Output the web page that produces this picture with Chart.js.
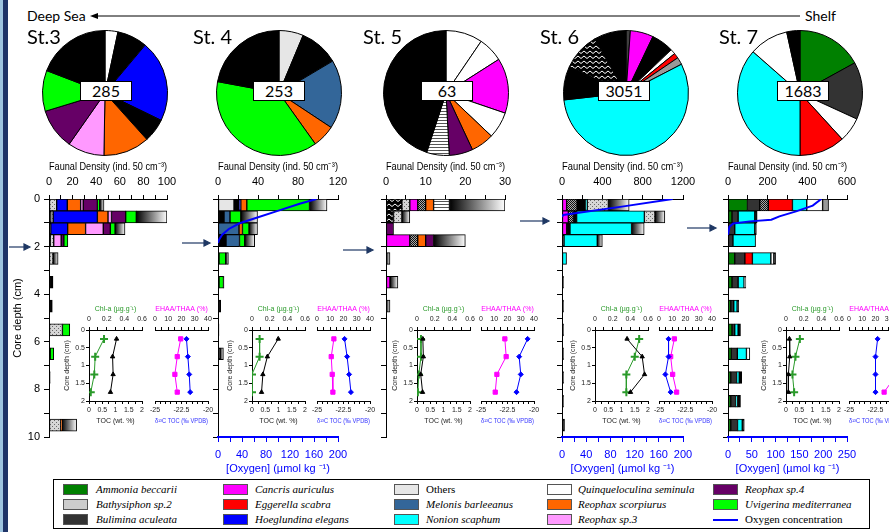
<!DOCTYPE html>
<html>
<head>
<meta charset="utf-8">
<title>Faunal density</title>
<script src="https://cdn.jsdelivr.net/npm/chart.js@4.4.1/dist/chart.umd.min.js"></script>
<style>
  body { margin: 0; width: 889px; height: 532px; overflow: hidden; position: relative; background: #fff; font-family: "Liberation Sans", Arial, sans-serif; }
  canvas, .abs { position: absolute; }
  .st { position: absolute; font: 20px Lato, "Open Sans", sans-serif; line-height: 24px; white-space: nowrap; }
  .num { position: absolute; background: #fff; border: 1px solid #000; box-sizing: border-box; text-align: center; font: 16px Lato, sans-serif; line-height: 18px; }
  .lab { position: absolute; font: 14px Lato, sans-serif; line-height: 16px; }
  #legend { position: absolute; left: 53px; top: 479px; width: 817px; height: 50px; border: 1px solid #000; box-sizing: border-box; }
  .sw { position: absolute; width: 25px; height: 11px; border: 1px solid #555; box-sizing: border-box; }
  .ln { position: absolute; font: italic 11px "Liberation Serif", serif; line-height: 13px; white-space: nowrap; }
</style>
</head>
<body>
<div class="abs" style="left:0;top:0;width:3px;height:532px;background:#9fc5e0"></div>
<div class="abs" style="left:3px;top:0;width:5px;height:532px;background:#1f3468"></div>
<svg class="abs" style="left:0;top:0" width="889" height="532">
  <line x1="96" y1="16" x2="800" y2="16" stroke="#000" stroke-width="1"/>
  <polygon points="90,16 98,13 98,19" fill="#000"/>
  <g stroke="#1f3864" stroke-width="1.2" fill="#1f3864">
    <line x1="9" y1="247" x2="26" y2="247"/><polygon points="30,247 24,244 24,250"/>
    <line x1="182" y1="243" x2="206" y2="243"/><polygon points="210,243 204,240 204,246"/>
    <line x1="343" y1="250" x2="369" y2="250"/><polygon points="373,250 367,247 367,253"/>
    <line x1="520" y1="221" x2="545" y2="221"/><polygon points="549,221 543,218 543,224"/>
    <line x1="687" y1="228" x2="712" y2="228"/><polygon points="716,228 710,225 710,231"/>
  </g>
</svg>
<div class="lab" style="left:27px;top:8px">Deep Sea</div>
<div class="lab" style="left:805px;top:8px">Shelf</div>
<div id="legend"></div>

<script>
// stations and total densities
const stations = ['St.3', 'St. 4', 'St. 5', 'St. 6', 'St. 7'];
const totals = [285, 253, 63, 3051, 1683];

// pie wedges, degrees clockwise from the top
const pieFills = [
  ['quinq', 'black', 'hoeg', 'black', 'scorp', 'sp3', 'sp4', 'uvig', 'black'],
  ['others', 'black', 'melon', 'scorp', 'uvig', 'black'],
  ['quinq', 'quinq', 'cancris', 'quinq', 'scorp', 'sp4', 'hl', 'black'],
  ['dgray', 'cancris', 'black', 'quinq', 'egger', 'gray', 'nonion', 'black', 'zig', 'black'],
  ['amm', 'bulim', 'quinq', 'egger', 'nonion', 'quinq', 'black']
];
const pieValues = [
  [12, 28, 76, 22, 43, 34, 38, 38, 69],
  [22.7, 36.6, 64.2, 21, 136, 79.5],
  [34.2, 23.3, 51.3, 24.7, 21.5, 22, 21, 162],
  [4, 21.5, 20.8, 4.7, 4.8, 6.8, 201, 31.4, 35, 30],
  [61.2, 53.4, 23, 42.4, 131.3, 36.4, 12.3]
];

// core depth (cm) of each bar
const depths = [0.25, 0.75, 1.25, 1.75, 2.5, 3.5, 4.5, 5.5, 6.5, 7.5, 8.5, 9.5];

// faunal density per taxon (rows) and depth (columns)
const st3Keys = ['black', 'dots', 'hoeg', 'scorp', 'sp3', 'sp4', 'uvig', 'grad'];
const st3Values = [
  [0, 1.5, 1.5, 1, 0, 3.4, 2.8, 0, 1, 1, 0.4, 0],
  [6.5, 2, 0, 3, 3.4, 0, 0, 11.4, 0, 0, 0, 10],
  [9, 37.5, 14.3, 0, 0, 0, 0, 0, 0, 0, 0, 0],
  [11.3, 9, 15.2, 0, 0, 0, 0, 0, 0, 0, 0, 0.9],
  [2.2, 3, 15, 6.3, 0, 0, 0, 0, 0, 0, 0, 0],
  [12, 12, 6, 2.3, 0, 0, 0, 0, 0, 0, 0, 0],
  [2, 9, 4, 3.4, 0, 0, 0, 6.2, 3, 0, 0, 0],
  [3.6, 26, 8.4, 0, 4.3, 0, 0, 0, 0, 0, 0, 12.5]
];
const st4Keys = ['others', 'black', 'hoeg', 'melon', 'scorp', 'uvig', 'grad'];
const st4Values = [
  [16, 0, 0, 0, 0, 0, 0, 0, 0, 0, 0, 0],
  [5, 6, 0, 8, 1, 1, 2.7, 1, 2, 0.5, 0.5, 0.5],
  [1.8, 0, 0, 0, 0, 0, 0, 0, 0, 0, 0, 0],
  [0, 6, 21, 13.5, 0, 0, 0, 0, 0, 0, 0, 0],
  [6, 0, 3.5, 0, 0, 0, 0, 0, 0, 0, 0, 0],
  [62.7, 10.8, 6.5, 5.2, 6.7, 4.5, 0, 0, 0, 0, 0, 0],
  [17.5, 16.7, 8.5, 10, 2.7, 0.5, 0, 0, 3.4, 0, 0, 0]
];
const st5Keys = ['zig', 'dots', 'cancris', 'ddots', 'scorp', 'sp4', 'hl', 'grad'];
const st5Values = [
  [4, 1.9, 0, 0, 0, 0, 0, 0, 0, 0, 0, 0],
  [2, 2.1, 0, 0, 0, 0, 0, 0, 0, 0, 0, 0],
  [2, 0, 0, 6, 0, 1, 0, 0, 0, 0, 0, 0],
  [2, 0, 0, 2, 0, 0, 0, 0, 0, 0, 0, 0],
  [2, 0, 0, 2, 0, 0, 0, 0, 0, 0, 0, 0],
  [0, 0, 1.9, 2, 0, 0, 0, 0, 0, 0, 0, 0],
  [4, 0, 0, 0, 0, 0, 0, 0, 0, 0, 0, 0],
  [14, 2, 0, 8, 1, 2, 1, 0, 0, 0, 0, 0]
];
const st6Keys = ['cancris', 'ddots', 'black', 'nonion', 'dots', 'grad'];
const st6Values = [
  [46, 63, 46, 0, 0, 0, 0, 0, 0, 0, 0, 0],
  [104, 50, 0, 0, 0, 0, 0, 0, 0, 0, 0, 0],
  [80, 32, 33, 20, 5, 15, 15, 15, 15, 15, 15, 25],
  [20, 672, 611, 330, 40, 0, 0, 0, 0, 0, 0, 0],
  [210, 105, 0, 0, 0, 0, 0, 0, 0, 0, 0, 0],
  [206, 98, 125, 50, 0, 0, 0, 0, 0, 0, 0, 0]
];
const st7Keys = ['amm', 'bulim', 'ddots', 'egger', 'nonion', 'quinq', 'gray', 'black'];
const st7Values = [
  [98, 20, 0, 0, 34, 20, 14, 20, 17, 14, 14, 14],
  [62, 31, 34, 25, 51, 31, 15, 14, 30, 29, 24, 34],
  [43, 0, 0, 0, 0, 0, 0, 0, 0, 0, 0, 0],
  [122, 0, 0, 0, 38, 0, 0, 0, 0, 0, 0, 0],
  [72, 84, 101, 114, 93, 30, 17, 17, 46, 14, 10, 24],
  [80, 0, 0, 0, 15, 9, 0, 0, 17, 0, 0, 0],
  [30, 0, 0, 0, 0, 0, 0, 0, 0, 0, 0, 0],
  [0, 12, 8, 0, 9, 0, 8, 12, 0, 12, 15, 10]
];
const barKeys = [st3Keys, st4Keys, st5Keys, st6Keys, st7Keys];
const barValues = [st3Values, st4Values, st5Values, st6Values, st7Values];

// axis ranges
const faunalMax = [100, 120, 30, 1200, 600];
const faunalStep = [10, 20, 5, 200, 100];
const faunalLabelStep = [20, 40, 10, 400, 200];
const o2Max = [0, 200, 0, 200, 250];
const o2Step = [0, 20, 0, 20, 25];
const o2LabelStep = [0, 40, 0, 40, 50];

// oxygen profiles (depth cm, umol/kg)
const o2Depth = [[], [0, 0.2, 0.52, 0.8, 1.03, 1.26, 1.5, 1.7, 1.85], [], [0, 0.32, 0.67, 0.75], [0, 0.28, 0.52, 0.73, 0.87, 0.94, 1.03, 1.17, 1.5]];
const o2Value = [[], [164, 136, 97, 63, 35, 18, 7, 2, 0], [], [183, 99, 2, 0], [196, 178, 143, 108, 91, 46, 11, 3, 0]];

// sediment insets
const insetDepth = [0.25, 0.75, 1.25, 1.75];
const chlA = [[0.17, 0.07, 0.06, 0.02], [0.086, 0.086, 0, 0], [0.045, 0.045, 0.02, 0.01], [0.5, 0.45, 0.355, 0.355], [0.157, 0.107, 0.073, 0.092]];
const toc = [[1.04, 0.89, 0.91, 0.81], [0.99, 0.58, 0.41, 0.36], [0.22, 0.24, 0.14, 0.21], [1.21, 1.78, 1.87, 1.34], [0.13, 0.14, 0.09, 0.09]];
const ehaa = [[19.4, 16.8, 15, 16.8], [12.75, 10.75, 11.5, 12], [18, 19, 12, 10.75], [11.6, 8.8, 10.3, 13.3], [null, null, 36, 26.5]];
const d13c = [[-22.03, -21.9, -21.77, -21.68], [-22.4, -22.16, -21.97, -21.8], [-20.6, -21.4, -21.25, -21.65], [-24.1, -24.1, -24.4, -23.9], [-22.3, -22.5, -22.5, -22.5]];

// legend
const legendKeys = ['amm', 'bathy', 'bulim', 'cancris', 'egger', 'hoeg', 'others', 'melon', 'nonion', 'quinq', 'scorp', 'sp3', 'sp4', 'uvig', 'oxygen'];
const legendNames = ['Ammonia beccarii', 'Bathysiphon sp.2', 'Bulimina aculeata', 'Cancris auriculus', 'Eggerella scabra', 'Hoeglundina elegans', 'Others', 'Melonis barleeanus', 'Nonion scaphum', 'Quinqueloculina seminula', 'Reophax scorpiurus', 'Reophax sp.3', 'Reophax sp.4', 'Uvigerina mediterranea', 'Oxygen concentration'];

// ---------- styling ----------
const palette = {
  amm: '#008000', bathy: '#cccccc', bulim: '#333333', cancris: '#ff00ff', egger: '#ff0000', hoeg: '#0000ff',
  others: '#e6e6e6', melon: '#336699', nonion: '#00ffff', quinq: '#ffffff', scorp: '#ff6600', sp3: '#ff99ff',
  sp4: '#660066', uvig: '#00ff00', black: '#000000', gray: '#999999', dgray: '#404040'
};

function makePattern(w, h, draw) {
  const c = document.createElement('canvas');
  c.width = w; c.height = h;
  const g = c.getContext('2d');
  draw(g);
  return g.createPattern(c, 'repeat');
}
const patterns = {
  dots: makePattern(4, 4, g => { g.fillStyle = '#d6d6d6'; g.fillRect(0, 0, 4, 4); g.fillStyle = '#6a6a6a'; g.fillRect(0, 0, 1, 1); g.fillRect(2, 2, 1, 1); }),
  ddots: makePattern(2, 2, g => { g.fillStyle = '#aaaaaa'; g.fillRect(0, 0, 2, 2); g.fillStyle = '#111'; g.fillRect(0, 0, 1, 1); g.fillRect(1, 1, 1, 1); }),
  zig: makePattern(6, 5, g => { g.fillStyle = '#000'; g.fillRect(0, 0, 6, 5); g.strokeStyle = '#fff'; g.lineWidth = 1; g.beginPath(); g.moveTo(0, 3.5); g.lineTo(3, 1); g.lineTo(6, 3.5); g.stroke(); }),
  hl: makePattern(4, 3, g => { g.fillStyle = '#fff'; g.fillRect(0, 0, 4, 3); g.fillStyle = '#555'; g.fillRect(0, 0, 4, 1); })
};
function fillOf(k) { return palette[k] || patterns[k]; }

function gradFill(c) {
  const raw = c.raw;
  const xs = c.chart.scales && c.chart.scales.x;
  if (!raw || !xs) return '#888';
  const x0 = xs.getPixelForValue(raw.s), x1 = xs.getPixelForValue(raw.s + raw.x);
  if (!isFinite(x0) || !isFinite(x1) || x1 - x0 < 1) return '#333';
  const g = c.chart.ctx.createLinearGradient(x0, 0, x1, 0);
  g.addColorStop(0, '#000');
  g.addColorStop(1, '#fff');
  return g;
}

Chart.defaults.font.family = "'Liberation Sans', Arial, sans-serif";
Chart.defaults.color = '#000';
Chart.defaults.plugins.legend.display = false;
Chart.defaults.plugins.tooltip.enabled = false;
Chart.defaults.animation = false;

function makeCanvas(left, top, w, h) {
  const c = document.createElement('canvas');
  c.width = w; c.height = h;
  c.style.left = left + 'px'; c.style.top = top + 'px';
  c.style.width = w + 'px'; c.style.height = h + 'px';
  document.body.appendChild(c);
  return c;
}
const isMult = (v, s) => Math.abs(v / s - Math.round(v / s)) < 1e-6;
const fmt = v => String(+v.toFixed(2));

// ---------- pies ----------
const pieX = [105, 279, 446, 626, 800];
const labelX = [27, 193, 363, 540, 719];
const boxX = [80, 253, 421, 598, 777];
stations.forEach((name, i) => {
  const r = 63;
  const cv = makeCanvas(pieX[i] - r, 93 - r, 2 * r, 2 * r);
  new Chart(cv, {
    type: 'pie',
    data: { datasets: [{ data: pieValues[i], backgroundColor: pieFills[i].map(fillOf), borderColor: '#000', borderWidth: 1 }] },
    options: { responsive: false, layout: { padding: 0 } }
  });
  const st = document.createElement('div');
  st.className = 'st'; st.textContent = name;
  st.style.left = labelX[i] + 'px'; st.style.top = '24px';
  document.body.appendChild(st);
  const box = document.createElement('div');
  box.className = 'num'; box.textContent = totals[i];
  box.style.left = boxX[i] + 'px'; box.style.top = '81px'; box.style.width = '52px'; box.style.height = '20px';
  document.body.appendChild(box);
});

// ---------- density bars ----------
const barLeft = [49, 218, 386, 562, 728];
const barWidth = [118, 120, 119, 121, 119];
stations.forEach((name, i) => {
  const keys = barKeys[i], vals = barValues[i];
  const leftW = i === 0 ? 49 : 6, topH = 49, botH = o2Max[i] ? 45 : 0, pad = 12;
  const cv = makeCanvas(barLeft[i] - leftW - pad, 199 - topH - pad, barWidth[i] + leftW + 2 * pad, 238 + topH + botH + 2 * pad);
  const starts = depths.map(() => 0);
  const datasets = keys.map((k, r) => {
    const data = [];
    depths.forEach((d, j) => {
      const v = vals[r][j];
      if (v > 0) data.push({ x: v, y: d, s: starts[j] });
      starts[j] += v;
    });
    return {
      type: 'bar', data, backgroundColor: k === 'grad' ? gradFill : fillOf(k),
      borderColor: '#000', borderWidth: 1, borderSkipped: false,
      barPercentage: 1, categoryPercentage: 1, xAxisID: 'x', yAxisID: 'y'
    };
  });
  const scales = {
    x: {
      type: 'linear', position: 'top', stacked: true, min: 0, max: faunalMax[i],
      ticks: { stepSize: faunalStep[i], autoSkip: false, maxRotation: 0, padding: 6, font: { size: 11 }, callback: v => isMult(v, faunalLabelStep[i]) ? v : '' },
      grid: { drawOnChartArea: false, tickLength: 4, color: '#000' },
      border: { color: '#000' },
      title: { display: true, text: 'Faunal Density (ind. 50 cm\u207B\u00B3)', font: { size: 11 }, padding: { top: 10, bottom: 0 } },
      afterFit: s => { s.height = topH; s.paddingLeft = 0; s.paddingRight = 0; }
    },
    y: {
      type: 'linear', min: 0, max: 10, reverse: true, stacked: true, offset: false,
      ticks: { stepSize: 1, autoSkip: false, padding: 4, font: { size: 11 }, callback: v => (i === 0 && v % 2 === 0) ? v : '' },
      grid: { offset: false, drawOnChartArea: false, tickLength: 5, color: '#000' },
      border: { color: '#000' },
      title: { display: i === 0, text: 'Core depth (cm)', font: { size: 11 }, padding: { top: 11, bottom: 0 } },
      afterFit: s => { s.width = leftW; s.paddingTop = 0; s.paddingBottom = 0; }
    }
  };
  if (o2Max[i]) {
    datasets.push({
      type: 'line', order: -1, data: o2Depth[i].map((d, j) => ({ x: o2Value[i][j], y: d })),
      xAxisID: 'o2', yAxisID: 'y', borderColor: '#0000ff', borderWidth: 2, pointRadius: 0, tension: 0
    });
    scales.o2 = {
      type: 'linear', position: 'bottom', min: 0, max: o2Max[i],
      ticks: { stepSize: o2Step[i], autoSkip: false, maxRotation: 0, padding: 6, color: '#0000ff', font: { size: 11 }, callback: v => isMult(v, o2LabelStep[i]) ? v : '' },
      grid: { drawOnChartArea: false, tickLength: 5, color: '#0000ff' },
      border: { color: '#0000ff', width: 2 },
      title: { display: true, text: '[Oxygen] (\u00B5mol kg \u207B\u00B9)', color: '#0000ff', font: { size: 11 }, padding: { top: 0, bottom: 6 } },
      afterFit: s => { s.height = botH; s.paddingLeft = 0; s.paddingRight = 0; }
    };
  }
  new Chart(cv, {
    type: 'bar',
    data: { datasets },
    options: { indexAxis: 'y', responsive: false, layout: { padding: pad }, scales }
  });
});

// ---------- insets ----------
const inset1X = [89, 252, 417, 595, 786];
const inset2X = [155, 317, 481, 659, 849];
function insetAxis(pos, min, max, step, lstep, title, color) {
  return {
    type: 'linear', position: pos, min, max,
    ticks: { stepSize: step, autoSkip: false, maxRotation: 0, padding: pos === 'top' ? 4 : 2, color: '#222', font: { size: 7 }, callback: v => isMult(v - min, lstep) ? fmt(v) : '' },
    grid: { drawOnChartArea: false, tickLength: 3, color: '#000' },
    border: { color: '#000' },
    title: { display: true, text: title, color, font: { size: 7 }, padding: pos === 'top' ? { top: 2, bottom: 0 } : { top: 0, bottom: 3 } },
    afterFit: s => { s.height = 27; s.paddingLeft = 0; s.paddingRight = 0; }
  };
}
function insetChart(x, showLeft, topAxis, botAxis, topSet, botSet) {
  const leftW = showLeft ? 27 : 0, pad = 8;
  const cv = makeCanvas(x - leftW - pad, 330 - 27 - pad, 53 + leftW + 2 * pad, 71 + 54 + 2 * pad);
  new Chart(cv, {
    type: 'line',
    data: { datasets: [botSet, topSet] },
    options: {
      indexAxis: 'y', responsive: false, layout: { padding: pad },
      scales: {
        xt: topAxis, xb: botAxis,
        y: {
          type: 'linear', min: 0, max: 2, reverse: true, display: showLeft,
          ticks: { stepSize: 0.5, padding: 1, color: '#222', font: { size: 7 }, callback: v => fmt(v) },
          grid: { drawOnChartArea: false, tickLength: 3, color: '#000' },
          border: { color: '#000' },
          title: { display: true, text: 'Core depth (cm)', color: '#222', font: { size: 7 }, padding: { top: 1, bottom: 0 } },
          afterFit: s => { s.width = leftW; s.paddingTop = 0; s.paddingBottom = 0; }
        }
      }
    }
  });
}
stations.forEach((name, i) => {
  const pts = arr => insetDepth.map((d, j) => ({ x: arr[j], y: d }));
  insetChart(inset1X[i], true,
    insetAxis('top', 0, 0.6, 0.1, 0.2, 'Chl-a (\u00B5g.g\u207B\u00B9)', '#2a9a2a'),
    insetAxis('bottom', 0, 2, 0.25, 0.5, 'TOC (wt. %)', '#222'),
    { data: pts(chlA[i]), xAxisID: 'xt', yAxisID: 'y', borderColor: '#2a9a2a', borderWidth: 1, pointStyle: 'cross', pointRadius: 4, pointBorderWidth: 2, pointBorderColor: '#2a9a2a' },
    { data: pts(toc[i]), xAxisID: 'xb', yAxisID: 'y', borderColor: '#000', borderWidth: 1, pointStyle: 'triangle', pointRadius: 2.5, pointBackgroundColor: '#000', pointBorderColor: '#000' });
  insetChart(inset2X[i], false,
    insetAxis('top', 0, 40, 5, 10, 'EHAA/THAA (%)', '#ff00ff'),
    insetAxis('bottom', -25, -20, 0.5, 2.5, '\u03B4\u00B9\u00B3C TOC (\u2030 VPDB)', '#3333ff'),
    { data: pts(ehaa[i]), xAxisID: 'xt', yAxisID: 'y', borderColor: '#ff00ff', borderWidth: 1, pointStyle: 'rect', pointRadius: 3, pointBackgroundColor: '#ff00ff', pointBorderColor: '#ff00ff' },
    { data: pts(d13c[i]), xAxisID: 'xb', yAxisID: 'y', borderColor: '#0000ff', borderWidth: 1, pointStyle: 'rectRot', pointRadius: 2.5, pointBackgroundColor: '#0000ff', pointBorderColor: '#0000ff' });
});

// ---------- legend ----------
const legend = document.getElementById('legend');
const colSwatch = [9, 169, 340, 493, 659];
const colText = [42, 201, 372, 524, 691];
const rowMid = [10, 25, 40];
legendKeys.forEach((k, n) => {
  const col = Math.floor(n / 3), row = n % 3;
  if (k === 'oxygen') {
    const l = document.createElement('div');
    l.className = 'sw';
    l.style.cssText = `left:${colSwatch[col]}px;top:${rowMid[row] - 1}px;height:2px;border:0;background:#0000ff`;
    legend.appendChild(l);
  } else {
    const s = document.createElement('div');
    s.className = 'sw';
    s.style.left = colSwatch[col] + 'px'; s.style.top = (rowMid[row] - 6) + 'px';
    s.style.background = palette[k];
    legend.appendChild(s);
  }
  const t = document.createElement('div');
  t.className = 'ln';
  t.textContent = legendNames[n];
  if (k === 'others' || k === 'oxygen') t.style.fontStyle = 'normal';
  t.style.left = colText[col] + 'px'; t.style.top = (rowMid[row] - 7) + 'px';
  legend.appendChild(t);
});
</script>
</body>
</html>
